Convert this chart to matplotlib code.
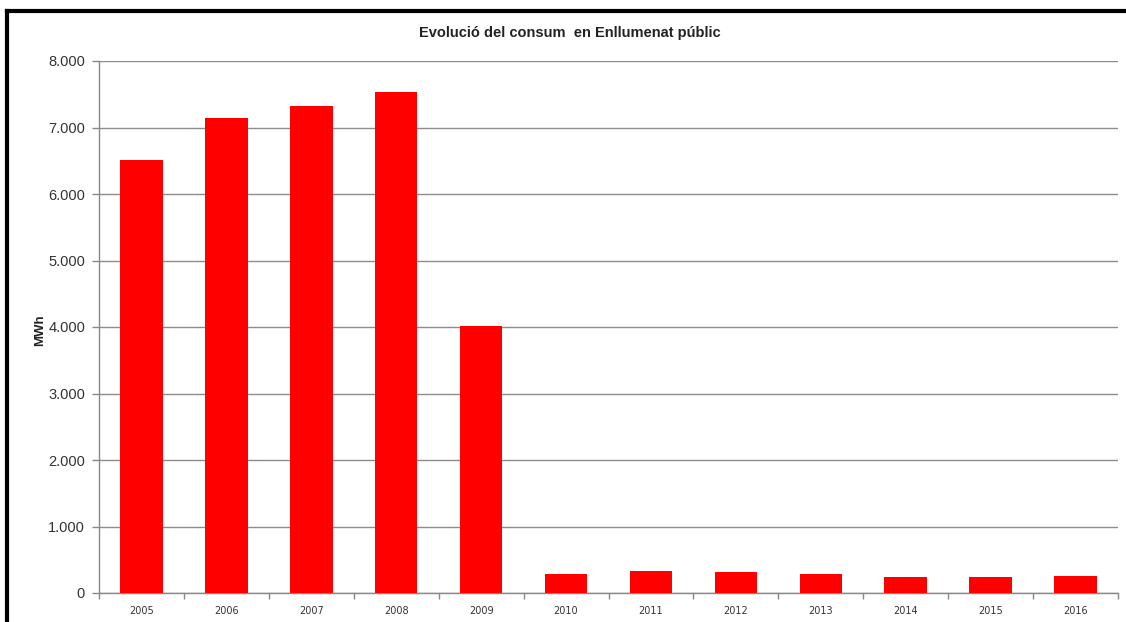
import matplotlib
matplotlib.use("Agg")
import matplotlib.pyplot as plt
from matplotlib.lines import Line2D
import numpy as np

years = ["2005", "2006", "2007", "2008", "2009", "2010", "2011", "2012",
         "2013", "2014", "2015", "2016"]
consum_mwh = [6510, 7150, 7320, 7530, 4010, 285, 325, 310, 280, 240, 240, 255]
y_ticks = [0, 1000, 2000, 3000, 4000, 5000, 6000, 7000, 8000]
y_tick_labels = ["0", "1.000", "2.000", "3.000", "4.000", "5.000", "6.000", "7.000", "8.000"]

W, H = 1126, 622
fig = plt.figure(figsize=(W / 100, H / 100), dpi=100)
fig.patch.set_facecolor("white")

ax = fig.add_axes([99 / W, (H - 593) / H, (1118 - 99) / W, (593 - 61) / H])
x = np.arange(len(years))
ax.bar(x, consum_mwh, width=0.5, color="#ff0000", zorder=3)

ax.set_xlim(-0.5, len(years) - 0.5)
ax.set_ylim(0, 8000)
ax.set_yticks(y_ticks)
ax.set_yticklabels(y_tick_labels, family="Liberation Sans", fontsize=10.5, color="#333333")
ax.set_xticks(x)
ax.set_xticklabels(years, family="DejaVu Sans", fontsize=7, color="#333333")
ax.tick_params(axis="x", length=0, pad=9)
ax.set_xticks(np.arange(-0.5, len(years), 1.0), minor=True)
ax.tick_params(axis="x", which="minor", length=4, color="#888888", width=1)
ax.tick_params(axis="y", length=5, color="#888888", width=1, pad=5)

ax.grid(axis="y", color="#8c8c8c", linewidth=1, zorder=0)
for s in ["top", "right"]:
    ax.spines[s].set_visible(False)
for s in ["left", "bottom"]:
    ax.spines[s].set_color("#888888")
    ax.spines[s].set_linewidth(1)

fig.text(570 / W, 1 - 33 / H, "Evolució del consum  en Enllumenat públic",
         ha="center", va="center", fontsize=10.5, fontweight="bold",
         family="Liberation Sans", color="#222222")
fig.text(40 / W, 1 - 330 / H, "MWh", ha="center", va="center", rotation=90,
         fontsize=9.5, fontweight="bold", family="Liberation Sans", color="#222222")

# outer frame (top and left visible)
fig.add_artist(Line2D([7 / W, 1.0], [1 - 11 / H, 1 - 11 / H], color="black", linewidth=3,
                      transform=fig.transFigure))
fig.add_artist(Line2D([7 / W, 7 / W], [1 - 11 / H, 0], color="black", linewidth=3,
                      transform=fig.transFigure))

fig.savefig("out.png", dpi=100)
